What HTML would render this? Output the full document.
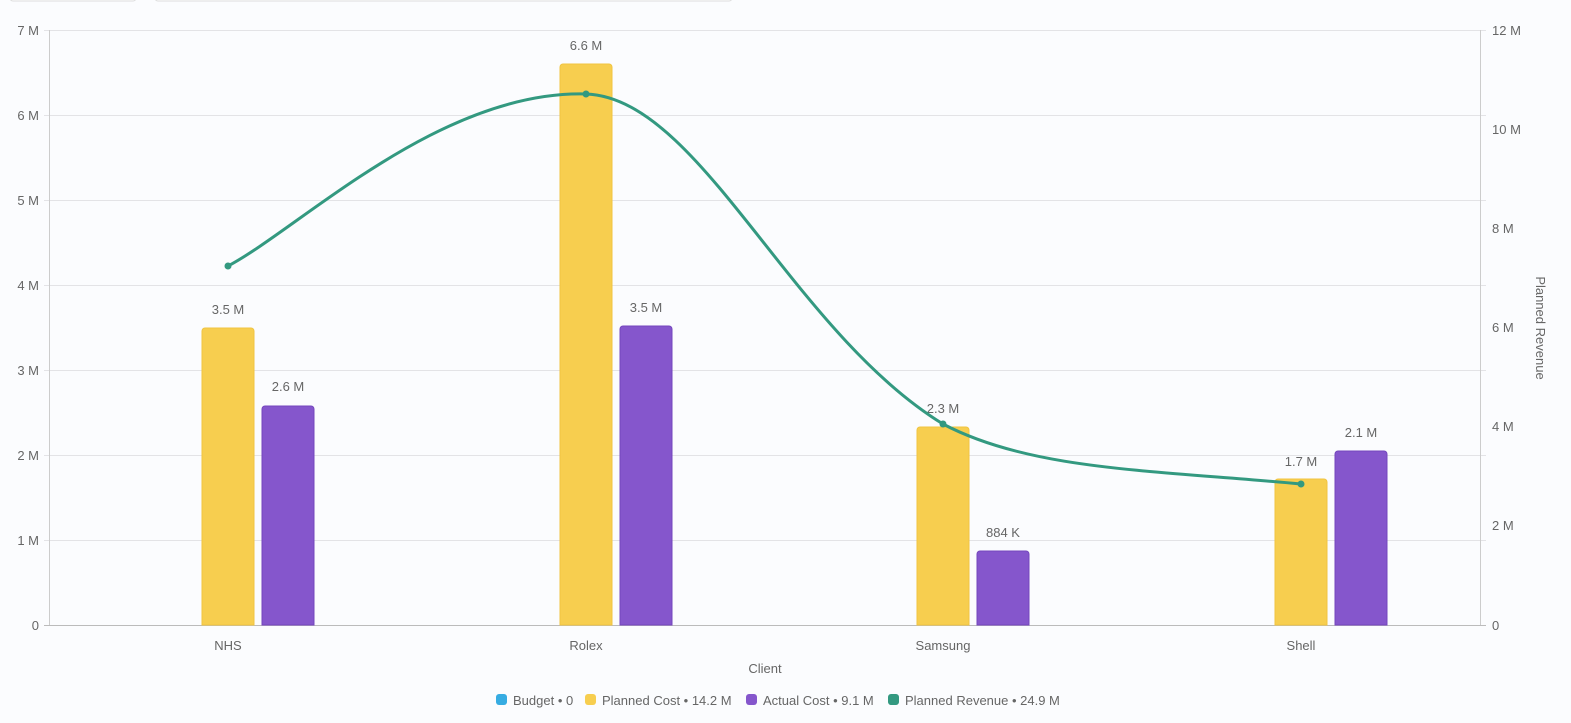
<!DOCTYPE html>
<html><head><meta charset="utf-8"><style>
html,body{margin:0;padding:0;background:#fbfcfe;}
svg{display:block;font-family:"Liberation Sans",sans-serif;}
</style></head><body>
<svg width="1571" height="723" viewBox="0 0 1571 723">
<rect width="1571" height="723" fill="#fbfcfe"/>
<rect x="10" y="-6" width="126" height="7" rx="3" fill="#fff" stroke="#ddd"/>
<rect x="155" y="-6" width="577" height="7" rx="3" fill="#fff" stroke="#ddd"/>
<g stroke="#e3e3e6" stroke-width="1">
<line x1="44" y1="30.5" x2="1486" y2="30.5"/>
<line x1="44" y1="115.5" x2="1486" y2="115.5"/>
<line x1="44" y1="200.5" x2="1486" y2="200.5"/>
<line x1="44" y1="285.5" x2="1486" y2="285.5"/>
<line x1="44" y1="370.5" x2="1486" y2="370.5"/>
<line x1="44" y1="455.5" x2="1486" y2="455.5"/>
<line x1="44" y1="540.5" x2="1486" y2="540.5"/>
</g>
<line x1="49.5" y1="30" x2="49.5" y2="625" stroke="#ccc"/>
<line x1="1480.5" y1="30" x2="1480.5" y2="625" stroke="#ccc"/>
<line x1="44" y1="625.5" x2="1486" y2="625.5" stroke="#bbb"/>
<g font-size="13" fill="#666" text-anchor="end">
<text x="39" y="35">7 M</text><text x="39" y="120">6 M</text><text x="39" y="205">5 M</text>
<text x="39" y="290">4 M</text><text x="39" y="375">3 M</text><text x="39" y="460">2 M</text>
<text x="39" y="545">1 M</text><text x="39" y="630">0</text>
</g>
<g font-size="13" fill="#666">
<text x="1492" y="35">12 M</text><text x="1492" y="134">10 M</text><text x="1492" y="233">8 M</text>
<text x="1492" y="332">6 M</text><text x="1492" y="431">4 M</text><text x="1492" y="530">2 M</text>
<text x="1492" y="630">0</text>
</g>
<text x="1536" y="328" font-size="13" fill="#666" text-anchor="middle" transform="rotate(90 1536 328)">Planned Revenue</text>
<g font-size="13" fill="#666" text-anchor="middle">
<text x="228" y="650">NHS</text><text x="586" y="650">Rolex</text><text x="943" y="650">Samsung</text><text x="1301" y="650">Shell</text>
<text x="765" y="673">Client</text>
</g>
<g fill="#f7ce4f" stroke="#f0c440">
<path d="M202,625V331a3,3 0 0 1 3,-3h46a3,3 0 0 1 3,3V625Z"/>
<path d="M560,625V67a3,3 0 0 1 3,-3h46a3,3 0 0 1 3,3V625Z"/>
<path d="M917,625V430a3,3 0 0 1 3,-3h46a3,3 0 0 1 3,3V625Z"/>
<path d="M1275,625V482a3,3 0 0 1 3,-3h46a3,3 0 0 1 3,3V625Z"/>
</g>
<g fill="#8556cc" stroke="#7446bd">
<path d="M262,625V409a3,3 0 0 1 3,-3h46a3,3 0 0 1 3,3V625Z"/>
<path d="M620,625V329a3,3 0 0 1 3,-3h46a3,3 0 0 1 3,3V625Z"/>
<path d="M977,625V554a3,3 0 0 1 3,-3h46a3,3 0 0 1 3,3V625Z"/>
<path d="M1335,625V454a3,3 0 0 1 3,-3h46a3,3 0 0 1 3,3V625Z"/>
</g>
<g font-size="13" fill="#666" text-anchor="middle">
<text x="228" y="314">3.5 M</text><text x="288" y="391">2.6 M</text>
<text x="586" y="50">6.6 M</text><text x="646" y="312">3.5 M</text>
<text x="943" y="413">2.3 M</text><text x="1003" y="537">884 K</text>
<text x="1301" y="466">1.7 M</text><text x="1361" y="437">2.1 M</text>
</g>
<path d="M228,266C300,228 440,90 586,94C700,98 790,330 943,424C1030,470 1150,470 1301,484" fill="none" stroke="#339980" stroke-width="3"/>
<g fill="#339980">
<circle cx="228" cy="266" r="3.5"/><circle cx="586" cy="94" r="3.5"/><circle cx="943" cy="424" r="3.5"/><circle cx="1301" cy="484" r="3.5"/>
</g>
<g font-size="13" fill="#666">
<rect x="496" y="694" width="11" height="11" rx="3" fill="#36ace2"/><text x="513" y="705">Budget • 0</text>
<rect x="585" y="694" width="11" height="11" rx="3" fill="#f7ce4f"/><text x="602" y="705">Planned Cost • 14.2 M</text>
<rect x="746" y="694" width="11" height="11" rx="3" fill="#8556cc"/><text x="763" y="705">Actual Cost • 9.1 M</text>
<rect x="888" y="694" width="11" height="11" rx="3" fill="#339980"/><text x="905" y="705">Planned Revenue • 24.9 M</text>
</g>
</svg>
</body></html>
